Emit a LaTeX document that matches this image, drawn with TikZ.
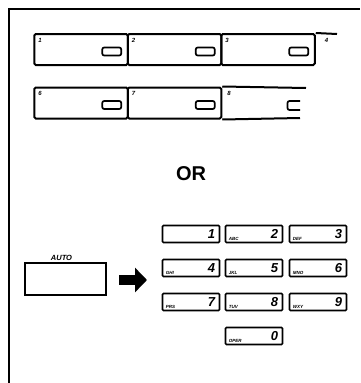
\documentclass[tikz,border=0pt]{standalone}
\usepackage{fontspec}
\setmainfont{Liberation Sans}
\usetikzlibrary{arrows.meta,positioning,calc}
\tikzset{
	fkey/.style={draw, line width=2pt, rounded corners=1.5pt, minimum width=93.5pt, minimum height=31pt, inner sep=0pt},
	ind/.style={draw, line width=1.7pt, rounded corners=2pt, minimum width=19pt, minimum height=8pt, inner sep=0pt},
	flab/.style={anchor=north west, inner sep=0pt, font=\fontsize{6}{6}\selectfont\bfseries\itshape},
	pkey/.style={draw, line width=1.6pt, rounded corners=1pt, minimum width=57pt, minimum height=17pt, inner sep=0pt},
	plet/.style={anchor=south west, inner sep=0pt, xshift=4pt, yshift=3pt, font=\fontsize{4.5}{5}\selectfont\bfseries\itshape},
	pdig/.style={anchor=east, inner sep=0pt, xshift=-5pt, font=\fontsize{13}{13}\selectfont\bfseries\itshape},
	frame/.style={line width=1.8pt},
	fline/.style={line width=2pt},
	bigarrow/.style={line width=10pt, -{Triangle[length=12pt, width=24pt]}}
}
\begin{document}
\begin{tikzpicture}[x=1pt, y=-1pt]
	\useasboundingbox (0,0) rectangle (360,383);
	% outer frame
	\coordinate (fbot) at (9,383);
	\coordinate (fcorner) at (9,9);
	\coordinate (fright) at (360,9);
	\draw[frame] (fbot) -- (fcorner) -- (fright);

	% first row of feature keys
	\node[fkey] (k1) at (81,49.5) {};
	\node[fkey] (k2) at (174.5,49.5) {};
	\node[fkey] (k3) at (268,49.5) {};
	\coordinate (k4top) at (337,34);
	\draw[fline] (k3.north east) -- (k4top);
	\node[ind] (i1) at ([xshift=-17pt, yshift=-2pt]k1.east) {};
	\node[ind] (i2) at ([xshift=-17pt, yshift=-2pt]k2.east) {};
	\node[ind] (i3) at ([xshift=-17pt, yshift=-2pt]k3.east) {};
	\node[flab] (l1) at ([xshift=5pt, yshift=-5pt]k1.north west) {1};
	\node[flab] (l2) at ([xshift=5pt, yshift=-5pt]k2.north west) {2};
	\node[flab] (l3) at ([xshift=5pt, yshift=-5pt]k3.north west) {3};
	\node[flab] (l4) at ([xshift=9pt, yshift=-5pt]k3.north east) {4};

	% second row of feature keys
	\node[fkey] (k6) at (81,103) {};
	\node[fkey] (k7) at (174.5,103) {};
	\coordinate (k8top) at (306,88);
	\coordinate (k8bot) at (300,118);
	\draw[fline] (k7.north east) -- (k8top);
	\draw[fline] (k7.south east) -- (k8bot);
	\node[ind] (i6) at ([xshift=-17pt, yshift=-2pt]k6.east) {};
	\node[ind] (i7) at ([xshift=-17pt, yshift=-2pt]k7.east) {};
	\coordinate (i8a) at (300,101);
	\coordinate (i8b) at (300,110);
	\draw[line width=1.7pt, rounded corners=2pt] (i8a) -- (287.5,101) -- (287.5,110) -- (i8b);
	\node[flab] (l6) at ([xshift=5pt, yshift=-5pt]k6.north west) {6};
	\node[flab] (l7) at ([xshift=5pt, yshift=-5pt]k7.north west) {7};
	\node[flab] (l8) at ([xshift=5pt, yshift=-5pt]k7.north east) {8};

	\node[font=\fontsize{20}{20}\selectfont\bfseries] (or) at (191,174) {OR};

	% auto key and arrow
	\node[draw, line width=1.8pt, minimum width=81pt, minimum height=32pt, inner sep=0pt] (auto) at (65.5,279) {};
	\node[font=\fontsize{7.5}{8}\selectfont\bfseries\itshape, above=1.5pt of auto.north, xshift=-4pt, inner sep=0pt] (autol) {AUTO};
	\coordinate (arrs) at (119,280);
	\coordinate (arre) at (147,280);
	\draw[bigarrow] (arrs) -- (arre);

	% keypad
	\node[pkey] (p1) at (191,234) {};
	\node[pdig] (p1d) at (p1.east) {1};
	\node[pkey] (p2) at (254,234) {};
	\node[plet] (p2l) at (p2.south west) {ABC};
	\node[pdig] (p2d) at (p2.east) {2};
	\node[pkey] (p3) at (318,234) {};
	\node[plet] (p3l) at (p3.south west) {DEF};
	\node[pdig] (p3d) at (p3.east) {3};
	\node[pkey] (p4) at (191,268) {};
	\node[plet] (p4l) at (p4.south west) {GHI};
	\node[pdig] (p4d) at (p4.east) {4};
	\node[pkey] (p5) at (254,268) {};
	\node[plet] (p5l) at (p5.south west) {JKL};
	\node[pdig] (p5d) at (p5.east) {5};
	\node[pkey] (p6) at (318,268) {};
	\node[plet] (p6l) at (p6.south west) {MNO};
	\node[pdig] (p6d) at (p6.east) {6};
	\node[pkey] (p7) at (191,302) {};
	\node[plet] (p7l) at (p7.south west) {PRS};
	\node[pdig] (p7d) at (p7.east) {7};
	\node[pkey] (p8) at (254,302) {};
	\node[plet] (p8l) at (p8.south west) {TUV};
	\node[pdig] (p8d) at (p8.east) {8};
	\node[pkey] (p9) at (318,302) {};
	\node[plet] (p9l) at (p9.south west) {WXY};
	\node[pdig] (p9d) at (p9.east) {9};
	\node[pkey] (p0) at (254,336) {};
	\node[plet] (p0l) at (p0.south west) {OPER};
	\node[pdig] (p0d) at (p0.east) {0};
\end{tikzpicture}
\end{document}
